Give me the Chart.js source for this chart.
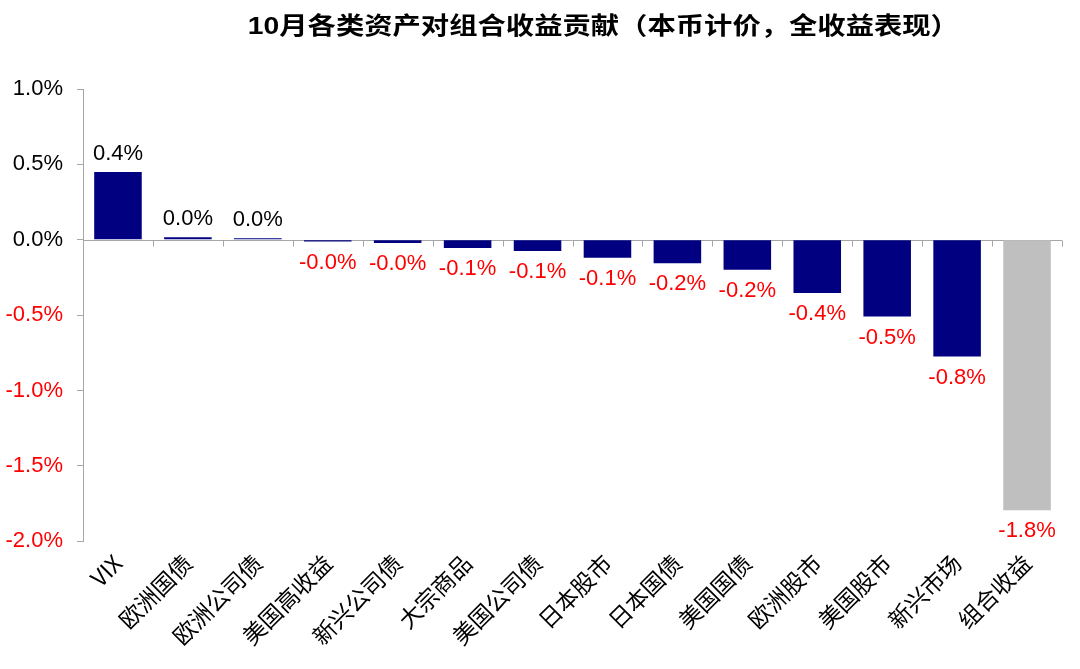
<!DOCTYPE html>
<html><head><meta charset="utf-8">
<script src="https://cdn.jsdelivr.net/npm/chart.js@4.4.1/dist/chart.umd.min.js"></script>
<style>
html,body{margin:0;padding:0;background:#fff;}
#wrap{position:relative;width:1080px;height:669px;overflow:hidden;}
#c{position:absolute;left:0;top:0;}
#title{position:absolute;left:126px;right:0;top:6px;text-align:center;}
#title span{display:inline-block;font:bold 24px "Liberation Sans","Noto Sans CJK SC",sans-serif;color:#000;transform:scaleX(1.18);transform-origin:center;white-space:nowrap;}
</style></head><body>
<div id="wrap">
<canvas id="c" width="1080" height="669"></canvas>
<div id="title"><span>10月各类资产对组合收益贡献（本币计价，全收益表现）</span></div>
</div>
<script>
const categories = ["VIX","欧洲国债","欧洲公司债","美国高收益","新兴公司债","大宗商品","美国公司债","日本股市","日本国债","美国国债","欧洲股市","美国股市","新兴市场","组合收益"];
const contributions = [0.449, 0.016, 0.009, -0.012, -0.022, -0.055, -0.075, -0.12, -0.156, -0.2, -0.353, -0.51, -0.775, -1.795];
const yTicks = [-2.0, -1.5, -1.0, -0.5, 0.0, 0.5, 1.0];

const NAVY = "#000080", GREY = "#BFBFBF", AXIS = "#A6A6A6", RED = "#FF0000";
const barColors = categories.map((c, i) => i === categories.length - 1 ? GREY : NAVY);
const fmt = v => (Math.abs(v) < 1e-9 ? 0 : v).toFixed(1) + "%";

const zeroLine = {
  id: "zeroLine",
  beforeDatasetsDraw(chart) {
    const {ctx, chartArea, scales: {x, y}} = chart;
    const y0 = Math.round(y.getPixelForValue(0)) + 0.5;
    ctx.save();
    ctx.strokeStyle = AXIS; ctx.lineWidth = 1;
    ctx.beginPath();
    ctx.moveTo(chartArea.left, y0); ctx.lineTo(chartArea.right, y0);
    const n = categories.length;
    for (let i = 1; i <= n; i++) {
      const bx = Math.round(i < n ? (x.getPixelForValue(i - 1) + x.getPixelForValue(i)) / 2 : chartArea.right) + 0.5;
      ctx.moveTo(bx, y0); ctx.lineTo(bx, y0 + 6);
    }
    ctx.stroke();
    ctx.restore();
  }
};

const valueLabels = {
  id: "valueLabels",
  afterDatasetsDraw(chart) {
    const {ctx} = chart;
    const meta = chart.getDatasetMeta(0);
    ctx.save();
    ctx.font = '22px "Liberation Sans", Arial, sans-serif';
    ctx.textAlign = "center"; ctx.textBaseline = "middle";
    meta.data.forEach((bar, i) => {
      const v = contributions[i];
      const neg = v < 0;
      ctx.fillStyle = neg ? RED : "#000";
      ctx.fillText(fmt(v), bar.x, neg ? bar.y + 21 : bar.y - 18);
    });
    ctx.restore();
  }
};

new Chart(document.getElementById("c"), {
  type: "bar",
  data: {
    labels: categories,
    datasets: [{
      data: contributions,
      backgroundColor: barColors,
      borderWidth: 0,
      barPercentage: 0.68,
      categoryPercentage: 1.0
    }]
  },
  options: {
    responsive: false,
    animation: false,
    devicePixelRatio: 1,
    layout: {padding: {left: 5, right: 18, top: 89, bottom: 11}},
    plugins: {legend: {display: false}, tooltip: {enabled: false}, title: {display: false}},
    scales: {
      x: {
        grid: {display: false, drawTicks: false},
        border: {display: false},
        ticks: {
          autoSkip: false, maxRotation: 45, minRotation: 45, padding: 8,
          color: "#000",
          font: {family: '"Noto Sans CJK SC", "Liberation Sans", sans-serif', size: 23}
        }
      },
      y: {
        min: yTicks[0], max: yTicks[yTicks.length - 1],
        afterBuildTicks: axis => { axis.ticks = yTicks.map(v => ({value: v})); },
        afterFit: axis => { axis.width = 78; },
        grid: {drawOnChartArea: false, drawTicks: true, tickLength: 6, color: AXIS},
        border: {display: true, color: AXIS, width: 1},
        ticks: {
          padding: 14,
          callback: v => fmt(v),
          color: c => (c.tick && c.tick.value < 0) ? RED : "#000",
          font: {family: '"Liberation Sans", Arial, sans-serif', size: 22}
        }
      }
    }
  },
  plugins: [zeroLine, valueLabels]
});
</script>
</body></html>
